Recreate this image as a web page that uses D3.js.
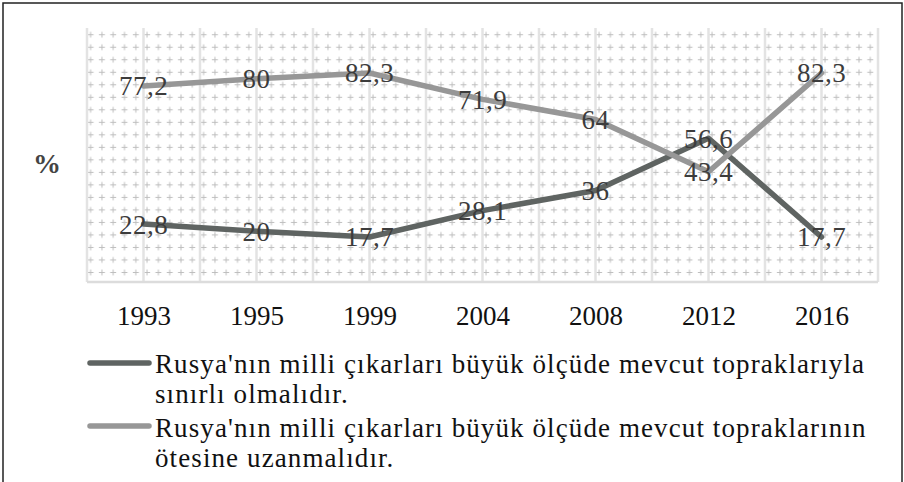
<!DOCTYPE html>
<meta charset="utf-8">
<script src="https://d3js.org/d3.v7.min.js"></script>
<style>
  body { margin: 0; background: #fff; }
  text { font-family: "Liberation Serif", "Times New Roman", serif; }
</style>
<div id="chart"></div>
<script>

// data
var years = ["1993", "1995", "1999", "2004", "2008", "2012", "2016"];
var limited = [22.8, 20, 17.7, 28.1, 36, 56.6, 17.7];
var beyond = [77.2, 80, 82.3, 71.9, 64, 43.4, 82.3];
var seriesNames = [
  ["Rusya'nın milli çıkarları büyük ölçüde mevcut topraklarıyla", "sınırlı olmalıdır."],
  ["Rusya'nın milli çıkarları büyük ölçüde mevcut topraklarının", "ötesine uzanmalıdır."]
];
var seriesColors = ["#5f6462", "#979797"];

var W = 904, H = 482;
var margin = {top: 28, right: 26, bottom: 200, left: 87};
var width = W - margin.left - margin.right,
    height = H - margin.top - margin.bottom;

var svg = d3.select("#chart").append("svg")
    .attr("width", W).attr("height", H);

// outer frame
svg.append("rect")
    .attr("x", 3).attr("y", 3).attr("width", W - 5).attr("height", H + 10)
    .attr("fill", "none").attr("stroke", "#222").attr("stroke-width", 1.5);

var g = svg.append("g")
    .attr("transform", "translate(" + margin.left + "," + margin.top + ")");

var x = d3.scalePoint().domain(years).range([0, width]).padding(0.5);
var step = x.step();
var y = d3.scaleLinear().domain([0, 100]).range([height, 0]);

// plus-sign texture
var defs = svg.append("defs");
var pw = step / 10, ph = height / 20.3;
var pat = defs.append("pattern")
    .attr("id", "plus")
    .attr("patternUnits", "userSpaceOnUse")
    .attr("width", pw).attr("height", ph)
    .attr("x", margin.left + 7 - pw / 2).attr("y", margin.top + height - ph / 2);
pat.append("path")
    .attr("d", "M" + (pw / 2 - 3) + "," + ph / 2 + "h6M" + pw / 2 + "," + (ph / 2 - 3) + "v6")
    .attr("stroke", "#bdbdbd").attr("stroke-width", 1);

g.append("rect")
    .attr("width", width).attr("height", height - 4)
    .attr("y", 2)
    .attr("fill", "url(#plus)");

// vertical grid lines at centres and band edges
var vlines = [];
years.forEach(function(d) { vlines.push(x(d) - step / 2, x(d)); });
vlines.push(width);
g.selectAll(".vline").data(vlines).enter().append("line")
    .attr("x1", function(d) { return d; }).attr("x2", function(d) { return d; })
    .attr("y1", 0).attr("y2", height)
    .attr("stroke", "#e3e3e3").attr("stroke-width", 2.5);

// bottom axis line
g.append("line")
    .attr("x1", 0).attr("x2", width)
    .attr("y1", height).attr("y2", height)
    .attr("stroke", "#dcdcdc").attr("stroke-width", 2.5);

// x labels
var xAxis = g.append("g")
    .attr("transform", "translate(0," + height + ")")
    .call(d3.axisBottom(x).tickSize(0));
xAxis.select(".domain").remove();
xAxis.selectAll("text")
    .attr("font-family", null)
    .attr("font-size", 27).attr("fill", "#111")
    .attr("y", 43).attr("dy", 0);
xAxis.attr("font-family", null);

// y title
svg.append("text")
    .attr("x", 47).attr("y", 173)
    .attr("text-anchor", "middle")
    .attr("font-size", 28).attr("font-weight", "bold").attr("fill", "#444")
    .text("%");

var line = d3.line()
    .x(function(d, i) { return x(years[i]); })
    .y(function(d) { return y(d); });

[limited, beyond].forEach(function(s, k) {
  g.append("path")
    .datum(s)
    .attr("d", line)
    .attr("fill", "none")
    .attr("stroke", seriesColors[k])
    .attr("stroke-width", 5.5)
    .attr("stroke-linejoin", "round")
    .attr("stroke-linecap", "round");
});

[limited, beyond].forEach(function(s) {
  g.selectAll(null).data(s).enter().append("text")
    .attr("x", function(d, i) { return x(years[i]); })
    .attr("y", function(d) { return y(d); })
    .attr("dy", "0.35em")
    .attr("text-anchor", "middle")
    .attr("font-size", 27).attr("fill", "#3c3c3c")
    .attr("letter-spacing", 0.5)
    .text(function(d) { return String(d).replace(".", ","); });
});

// legend
var legend = svg.append("g").attr("transform", "translate(88,0)");
var legY = [363, 426];
var textY = [[373, 403], [437, 467]];
seriesNames.forEach(function(lines, k) {
  legend.append("line")
    .attr("x1", 2).attr("x2", 61)
    .attr("y1", legY[k]).attr("y2", legY[k])
    .attr("stroke", seriesColors[k]).attr("stroke-width", 5.5)
    .attr("stroke-linecap", "round");
  lines.forEach(function(t, j) {
    legend.append("text")
      .attr("x", 67).attr("y", textY[k][j])
      .attr("font-size", 27).attr("fill", "#111")
      .attr("letter-spacing", 1.1)
      .text(t);
  });
});

</script>
